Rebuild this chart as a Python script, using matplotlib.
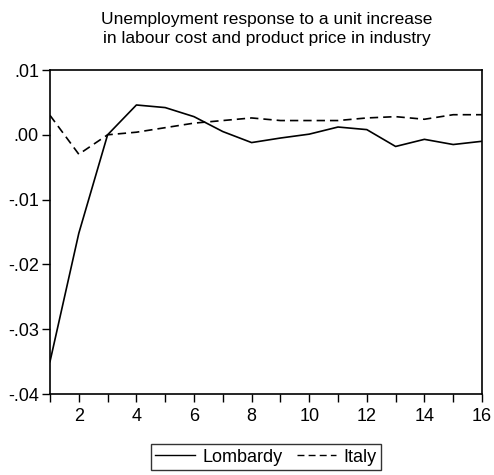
import matplotlib
matplotlib.use("Agg")
import matplotlib.pyplot as plt
from matplotlib.ticker import MultipleLocator, FuncFormatter

plt.rcParams['font.family'] = ['Liberation Sans', 'DejaVu Sans']

periods = list(range(1, 17))
lombardy = [-0.035, -0.0152, 0.0, 0.0046, 0.0042, 0.0028, 0.0005, -0.0012,
            -0.0005, 0.0001, 0.0012, 0.0008, -0.0018, -0.0007, -0.0015, -0.0010]
italy = [0.0030, -0.0030, 0.0, 0.0004, 0.0011, 0.0018, 0.0022, 0.0026,
         0.0022, 0.0022, 0.0022, 0.0026, 0.0028, 0.0024, 0.0031, 0.0031]

def fmt(v, pos):
    s = "%.2f" % v
    if s.startswith("-0"):
        return "-" + s[2:]
    if s.startswith("0"):
        return s[1:]
    return s

fig = plt.figure(figsize=(4.94, 4.75), dpi=100)
ax = fig.add_axes([50/494, 1 - 394/475, 432/494, 324/475])

ax.plot(periods, lombardy, color='black', lw=1.2, label='Lombardy')
ax.plot(periods, italy, color='black', lw=1.2, ls=(0, (5, 3)), label='Italy')

ax.set_xlim(1, 16)
ax.set_ylim(-0.04, 0.01)
ax.xaxis.set_major_locator(MultipleLocator(2))
ax.xaxis.set_minor_locator(MultipleLocator(1))
ax.yaxis.set_major_locator(MultipleLocator(0.01))
ax.yaxis.set_major_formatter(FuncFormatter(fmt))
ax.tick_params(axis='both', which='both', direction='out', labelsize=13, width=1)
ax.tick_params(axis='x', which='both', length=6, pad=4)
ax.tick_params(axis='y', length=6, pad=2)
for sp in ax.spines.values():
    sp.set_linewidth(1.2)

fig.text(267/494, 1 - 29/475, "Unemployment response to a unit increase\nin labour cost and product price in industry",
         ha='center', va='center', fontsize=12.5, linespacing=1.4)

leg = fig.legend(loc='center', bbox_to_anchor=(266/494, 1 - 457/475), ncol=2, fontsize=13,
                 frameon=True, fancybox=False, edgecolor='black', handlelength=2.2,
                 columnspacing=0.8, handletextpad=0.4, borderpad=0.25, borderaxespad=0)
leg.get_frame().set_linewidth(1.0)
for h in leg.get_lines():
    h.set_linewidth(1.0)

fig.savefig("out.png", dpi=100)
